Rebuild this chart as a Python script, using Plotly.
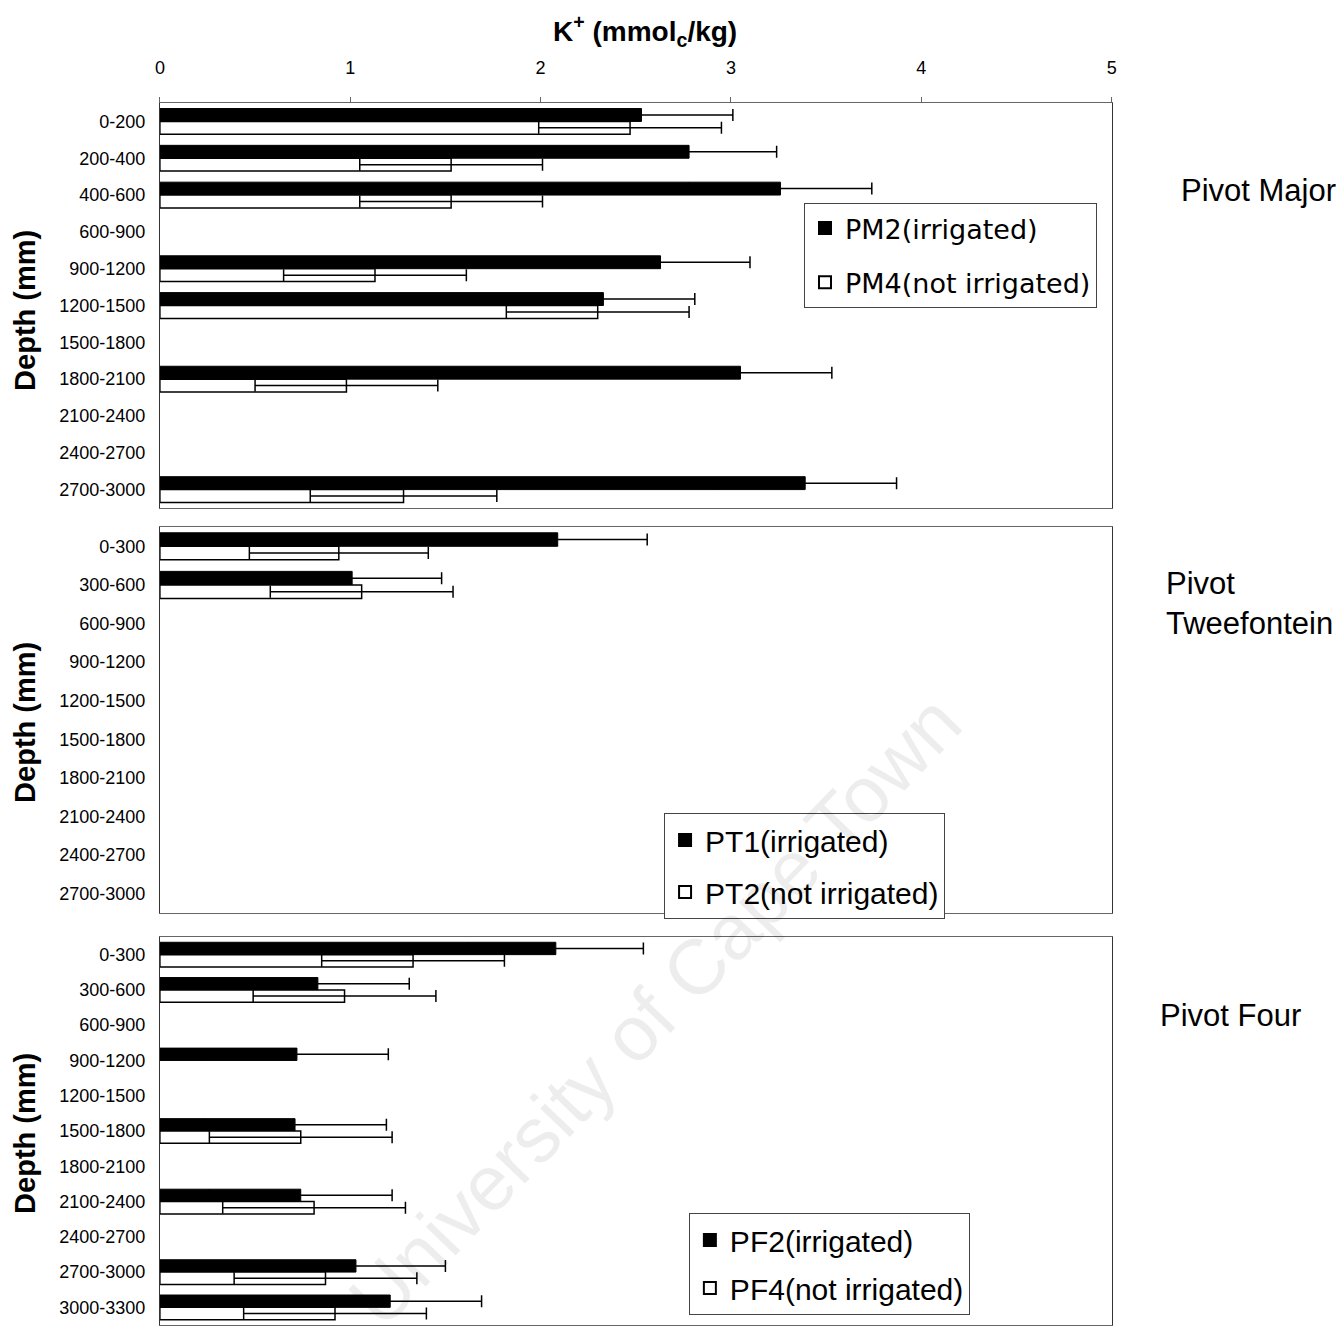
import plotly.graph_objects as go

# ---------------- data ----------------
cats_pm = ["0-200", "200-400", "400-600", "600-900", "900-1200", "1200-1500",
           "1500-1800", "1800-2100", "2100-2400", "2400-2700", "2700-3000"]
pm2 = [2.53, 2.78, 3.26, None, 2.63, 2.33, None, 3.05, None, None, 3.39]
pm2_err = [0.48, 0.46, 0.48, None, 0.47, 0.48, None, 0.48, None, None, 0.48]
pm4 = [2.47, 1.53, 1.53, None, 1.13, 2.30, None, 0.98, None, None, 1.28]
pm4_err = [0.48, 0.48, 0.48, None, 0.48, 0.48, None, 0.48, None, None, 0.49]

cats_pt = ["0-300", "300-600", "600-900", "900-1200", "1200-1500", "1500-1800",
           "1800-2100", "2100-2400", "2400-2700", "2700-3000"]
pt1 = [2.09, 1.01, None, None, None, None, None, None, None, None]
pt1_err = [0.47, 0.47, None, None, None, None, None, None, None, None]
pt2 = [0.94, 1.06, None, None, None, None, None, None, None, None]
pt2_err = [0.47, 0.48, None, None, None, None, None, None, None, None]

cats_pf = ["0-300", "300-600", "600-900", "900-1200", "1200-1500", "1500-1800",
           "1800-2100", "2100-2400", "2400-2700", "2700-3000", "3000-3300"]
pf2 = [2.08, 0.83, None, 0.72, None, 0.71, None, 0.74, None, 1.03, 1.21]
pf2_err = [0.46, 0.48, None, 0.48, None, 0.48, None, 0.48, None, 0.47, 0.48]
pf4 = [1.33, 0.97, None, None, None, 0.74, None, 0.81, None, 0.87, 0.92]
pf4_err = [0.48, 0.48, None, None, None, 0.48, None, 0.48, None, 0.48, 0.48]

x_ticks = [0, 1, 2, 3, 4, 5]

OFF = 8  # page body margin
W, H = 1344 - 2 * OFF, 1327
def px(x):
    return (x - OFF) / W
def py(y):
    return 1 - (y - OFF) / H

FONT = "Liberation Sans, Arial, sans-serif"

fig = go.Figure()

def add_pair(cats, v1, e1, n1, v2, e2, n2, xa, ya, leg):
    fig.add_trace(go.Bar(
        y=cats, x=v1, orientation="h", name=n1,
        marker=dict(color="black", line=dict(color="black", width=1)),
        error_x=dict(type="data", array=e1, symmetric=True, color="black",
                     thickness=1.5, width=6),
        xaxis=xa, yaxis=ya, legend=leg, legendgroup=n1,
    ))
    fig.add_trace(go.Bar(
        y=cats, x=v2, orientation="h", name=n2,
        marker=dict(color="white", line=dict(color="black", width=1.5)),
        error_x=dict(type="data", array=e2, symmetric=True, color="black",
                     thickness=1.5, width=6),
        xaxis=xa, yaxis=ya, legend=leg, legendgroup=n2,
    ))

add_pair(cats_pm, pm2, pm2_err, "PM2(irrigated)", pm4, pm4_err, "PM4(not irrigated)",
         "x", "y", "legend")
add_pair(cats_pt, pt1, pt1_err, "PT1(irrigated)", pt2, pt2_err, "PT2(not irrigated)",
         "x2", "y2", "legend2")
add_pair(cats_pf, pf2, pf2_err, "PF2(irrigated)", pf4, pf4_err, "PF4(not irrigated)",
         "x3", "y3", "legend3")

xdom = [px(156), px(1115)]
ydoms = [[py(508), py(103)], [py(913), py(527)], [py(1325), py(937)]]
cat_lists = [cats_pm, cats_pt, cats_pf]

line_col = "#666666"
layout = dict(
    width=W, height=H,
    margin=dict(l=0, r=0, t=0, b=0),
    paper_bgcolor="white", plot_bgcolor="white",
    barmode="group", bargap=0.3, bargroupgap=0.0,
    font=dict(family=FONT, color="black"),
    showlegend=True,
)

for i in range(3):
    sx = "" if i == 0 else str(i + 1)
    xa = dict(
        domain=xdom, range=[0, 5], anchor="y" + sx,
        showgrid=False, zeroline=False,
        showline=True, linecolor=line_col, linewidth=1, mirror=True,
        tickvals=x_ticks, ticktext=[str(t) for t in x_ticks],
    )
    if i == 0:
        xa.update(side="top", ticks="outside", ticklen=5, tickcolor=line_col,
                  ticklabelstandoff=16, tickfont=dict(size=18, family=FONT))
    else:
        xa.update(showticklabels=False, ticks="")
    ya = dict(
        domain=ydoms[i], anchor="x" + sx, type="category",
        categoryorder="array", categoryarray=cat_lists[i],
        autorange="reversed", showgrid=False, zeroline=False,
        showline=True, linecolor="#333333", linewidth=1, mirror=True,
        ticks="", ticklabelstandoff=10, tickfont=dict(size=18, family=FONT),
    )
    layout["xaxis" + sx] = xa
    layout["yaxis" + sx] = ya

leg_common = dict(xanchor="left", yanchor="top", bgcolor="white",
                  bordercolor="#444444", borderwidth=1,
                  itemsizing="constant", traceorder="grouped")
layout["legend"] = dict(x=px(805), y=py(203), tracegroupgap=16,
                        font=dict(size=27, family="DejaVu Sans, Verdana, sans-serif"),
                        **leg_common)
layout["legend2"] = dict(x=px(664), y=py(813), tracegroupgap=10,
                         font=dict(size=30, family=FONT), **leg_common)
layout["legend3"] = dict(x=px(689), y=py(1213), tracegroupgap=6,
                         font=dict(size=30, family=FONT), **leg_common)

fig.update_layout(**layout)

ann = []
ann.append(dict(text="<b>K<sup>+</sup> (mmol<sub>c</sub>/kg)</b>", x=px(645), y=py(31),
                xref="paper", yref="paper", xanchor="center", yanchor="middle",
                showarrow=False, font=dict(size=28, family=FONT)))
for yc in [310, 722, 1133]:
    ann.append(dict(text="<b>Depth (mm)</b>", x=px(20), y=py(yc), xref="paper", yref="paper",
                    xanchor="center", yanchor="middle",
                    textangle=-90, showarrow=False, font=dict(size=29, family=FONT)))
ann.append(dict(text="Pivot Major", x=px(1183), y=py(190), xref="paper", yref="paper",
                xanchor="left", yanchor="middle", showarrow=False,
                font=dict(size=31, family=FONT)))
ann.append(dict(text="Pivot<br>Tweefontein", x=px(1168), y=py(603), xref="paper", yref="paper",
                xanchor="left", yanchor="middle", align="left", showarrow=False,
                font=dict(size=31, family=FONT)))
ann.append(dict(text="Pivot Four", x=px(1162), y=py(1015), xref="paper", yref="paper",
                xanchor="left", yanchor="middle", showarrow=False,
                font=dict(size=31, family=FONT)))
ann.append(dict(text="University of Cape Town", x=px(655), y=py(1010), xref="paper", yref="paper",
                xanchor="center", yanchor="middle",
                textangle=-46, showarrow=False,
                font=dict(size=78, family=FONT, color="rgba(0,0,0,0.07)")))
fig.update_layout(annotations=ann)

fig.write_html("out.html")
